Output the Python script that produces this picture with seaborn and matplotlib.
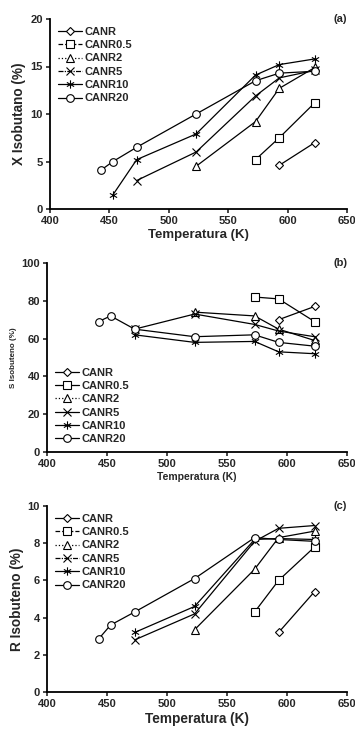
import numpy as np
import pandas as pd
import matplotlib
matplotlib.use("Agg")
import matplotlib.pyplot as plt
from matplotlib.lines import Line2D
from matplotlib.path import Path
import seaborn as sns

# temperatures (K) at which each catalyst was measured
temps_canr = [593, 623]
temps_canr05 = [573, 593, 623]
temps_canr2 = [523, 573, 593, 623]
temps_canr5 = [473, 523, 573, 593, 623]
temps_canr10 = [453, 473, 523, 573, 593, 623]
temps_canr20 = [443, 453, 473, 523, 573, 593, 623]

series_names = ["CANR", "CANR0.5", "CANR2", "CANR5", "CANR10", "CANR20"]

# (a) X Isobutano (%)
x_canr = [4.6, 7.0]
x_canr05 = [5.2, 7.5, 11.2]
x_canr2 = [4.5, 9.2, 12.7, 14.9]
x_canr5 = [3.0, 6.0, 11.9, 13.8, 14.6]
x_canr10 = [1.5, 5.2, 7.9, 14.1, 15.2, 15.8]
x_canr20 = [4.1, 5.0, 6.5, 10.0, 13.5, 14.3, 14.5]

# (b) S Isobuteno (%)
s_canr = [70, 77]
s_canr05 = [82, 81, 69]
s_canr2 = [74, 72, 65, 59]
s_canr5 = [65, 73, 67.5, 64, 61]
s_canr10 = [62, 58, 58.5, 53, 52]
s_canr20 = [69, 72, 65, 61, 62, 58, 56]

# (c) R Isobuteno (%)
r_canr = [3.2, 5.4]
r_canr05 = [4.3, 6.0, 7.8]
r_canr2 = [3.35, 6.6, 8.3, 8.65]
r_canr5 = [2.8, 4.2, 8.1, 8.8, 8.95]
r_canr10 = [3.2, 4.6, 8.2, 8.25, 8.2]
r_canr20 = [2.85, 3.6, 4.3, 6.1, 8.3, 8.2, 8.1]

temps = [temps_canr, temps_canr05, temps_canr2, temps_canr5, temps_canr10, temps_canr20]
temps_bc = [temps_canr, temps_canr05, temps_canr2, temps_canr5, temps_canr10[1:], temps_canr20]

# thin six-armed asterisk, like the Excel marker
_ang = np.deg2rad([90, 30, 150])
_verts, _codes = [], []
for a in _ang:
    _verts += [(np.cos(a), np.sin(a)), (-np.cos(a), -np.sin(a))]
    _codes += [Path.MOVETO, Path.LINETO]
star = Path(_verts, _codes)

markers = ["D", "s", "^", "x", star, "o"]
msizes = [3.8, 5.5, 5.2, 5.2, 6, 5.5]


def draw_panel(ax, tlist, values, ylabel, ymax, ystep, tag, legend_styles, legend_loc,
               ylabel_size, xlabel_size):
    for name, t, v, m, ms in zip(series_names, tlist, values, markers, msizes):
        df = pd.DataFrame({"T": t, "v": v})
        sns.lineplot(data=df, x="T", y="v", ax=ax, color="black", lw=0.9,
                     marker=m, markersize=ms, markerfacecolor="white",
                     markeredgecolor="black", markeredgewidth=0.8, legend=False)
    handles = [Line2D([], [], color="black", lw=0.9, ls=ls, marker=m, markersize=ms,
                      markerfacecolor="white", markeredgecolor="black", markeredgewidth=0.8)
               for ls, m, ms in zip(legend_styles, markers, msizes)]
    ax.legend(handles, series_names, loc=legend_loc, frameon=False, handlelength=2.2,
              handletextpad=0.2, labelspacing=0.3, prop={"weight": "bold", "size": 8},
              borderaxespad=0.3)
    ax.set_xlim(400, 650)
    ax.set_ylim(0, ymax)
    ax.set_xticks(range(400, 651, 50))
    ax.set_yticks(range(0, ymax + 1, ystep))
    ax.set_xlabel("Temperatura (K)", fontweight="bold", fontsize=xlabel_size, labelpad=2)
    ax.set_ylabel(ylabel, fontweight="bold", fontsize=ylabel_size, labelpad=3)
    for lab in ax.get_xticklabels() + ax.get_yticklabels():
        lab.set_fontweight("bold")
        lab.set_fontsize(8)
    ax.tick_params(length=3, width=1.2, pad=2)
    for s in ["left", "bottom"]:
        ax.spines[s].set_linewidth(1.3)
        ax.spines[s].set_color("black")
    sns.despine(ax=ax)
    ax.text(1.0, 1.0, tag, transform=ax.transAxes, ha="right", va="center",
            fontweight="bold", fontsize=8)


def main():
    sns.set_style("ticks")
    plt.rcParams["font.family"] = ["Liberation Sans", "DejaVu Sans"]
    fig = plt.figure(figsize=(3.55, 7.32), dpi=100)
    W, H = 355, 732
    ax_a = fig.add_axes([50 / W, 1 - 209 / H, 297 / W, 190 / H])
    ax_b = fig.add_axes([47 / W, 1 - 452 / H, 300 / W, 189 / H])
    ax_c = fig.add_axes([47 / W, 1 - 692 / H, 300 / W, 186 / H])

    dash_styles = ["-", "--", ":", (0, (4, 1, 1, 1)), "-", "-"]
    draw_panel(ax_a, temps, [x_canr, x_canr05, x_canr2, x_canr5, x_canr10, x_canr20],
               "X Isobutano (%)", 20, 5, "(a)", dash_styles, "upper left", 9.8, 9.5)
    draw_panel(ax_b, temps_bc, [s_canr, s_canr05, s_canr2, s_canr5, s_canr10, s_canr20],
               "S Isobuteno (%)", 100, 20, "(b)", ["-", "-", ":", "-", "-", "-"],
               "lower left", 5.8, 7.5)
    draw_panel(ax_c, temps_bc, [r_canr, r_canr05, r_canr2, r_canr5, r_canr10, r_canr20],
               "R Isobuteno (%)", 10, 2, "(c)", dash_styles, "upper left", 9.8, 9.8)

    fig.savefig("out.png", dpi=100)


if __name__ == "__main__":
    main()
